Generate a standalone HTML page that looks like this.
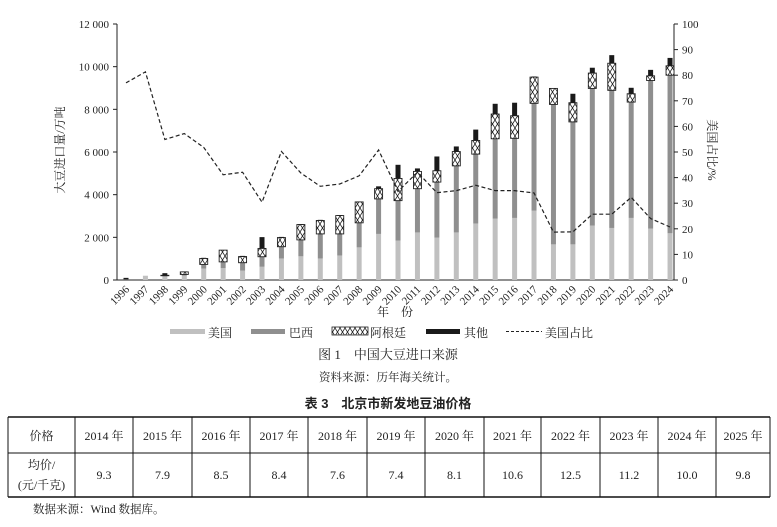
<!DOCTYPE html>
<html><head><meta charset="utf-8"><style>
body{margin:0;background:#fff;width:777px;height:522px;overflow:hidden;font-family:"Liberation Serif","Noto Serif CJK SC",serif;}
svg text{font-family:"Liberation Serif","Noto Serif CJK SC",serif;fill:#222}
</style></head><body>
<svg id="c" width="777" height="522" xmlns="http://www.w3.org/2000/svg">
<defs><pattern id="hx" width="5" height="8" patternUnits="userSpaceOnUse"><rect width="5" height="8" fill="#fff"/><path d="M0 0L5 8M5 0L0 8" stroke="#222" stroke-width="0.8"/></pattern></defs>
<g id="plot"></g>
<g>
<rect x="170" y="329" width="35" height="5" fill="#c0c0c0"/><text x="208" y="337" font-size="12">美国</text>
<rect x="251" y="329" width="34" height="5" fill="#8f8f8f"/><text x="289" y="337" font-size="12">巴西</text>
<rect x="332" y="327" width="36" height="8" fill="url(#hx)" stroke="#222" stroke-width="0.8"/><text x="370" y="337" font-size="12">阿根廷</text>
<rect x="426" y="329" width="34" height="5" fill="#1a1a1a"/><text x="464" y="337" font-size="12">其他</text>
<line x1="506" y1="331.5" x2="542" y2="331.5" stroke="#222" stroke-dasharray="3,2"/><text x="545" y="337" font-size="12">美国占比</text>
</g>
<text x="388" y="359" font-size="13" text-anchor="middle" fill="#444">图 1　中国大豆进口来源</text>
<text x="388" y="381" font-size="11.5" text-anchor="middle">资料来源：历年海关统计。</text>
<text x="388" y="408" font-size="13" font-weight="bold" text-anchor="middle" style="font-family:'Liberation Sans','Noto Sans CJK SC',sans-serif">表 3　北京市新发地豆油价格</text>
<g id="tbl"></g>
<text x="33" y="513" font-size="11.5">数据来源：Wind 数据库。</text>
</svg>
<script>
const years=[1996,1997,1998,1999,2000,2001,2002,2003,2004,2005,2006,2007,2008,2009,2010,2011,2012,2013,2014,2015,2016,2017,2018,2019,2020,2021,2022,2023,2024];
const usVals=[20,200,170,200,540,560,440,620,1010,1110,1010,1150,1530,2160,1850,2230,1990,2230,2650,2880,2910,3250,1670,1670,2550,2440,2910,2410,2190];
const brazilVals=[0,0,30,60,190,290,370,470,550,770,1150,1010,1150,1640,1870,2050,2600,3120,3250,3740,3730,5030,6560,5740,6430,6450,5430,6940,7410];
const argentinaVals=[0,0,20,120,280,550,290,390,430,720,630,860,980,480,1040,810,530,670,640,1160,1060,1230,750,900,720,1270,390,220,440];
const otherVals=[80,0,100,20,30,0,30,530,30,20,30,20,20,110,640,140,670,240,510,480,610,30,10,420,250,380,280,280,370];
const usShare=[77,81.3,54.9,57.2,51.8,41.1,42.1,30.4,50.2,41.8,36.6,37.5,40.7,50.8,34.6,42.1,34.1,34.9,37,34.9,34.9,34,18.7,18.8,25.7,25.7,32.3,24,20.7];
const leftTicks=[0,2000,4000,6000,8000,10000,12000];
const leftTickLabels=["0","2 000","4 000","6 000","8 000","10 000","12 000"];
const rightTicks=[0,10,20,30,40,50,60,70,80,90,100];
const tableYears=["2014 年","2015 年","2016 年","2017 年","2018 年","2019 年","2020 年","2021 年","2022 年","2023 年","2024 年","2025 年"];
const prices=["9.3","7.9","8.5","8.4","7.6","7.4","8.1","10.6","12.5","11.2","10.0","9.8"];

const NS="http://www.w3.org/2000/svg";
const X0=117,X1=674,Y0=280,Y1=24;
const yL=v=>Y0-(v/12000)*(Y0-Y1);
const yR=v=>Y0-(v/100)*(Y0-Y1);
const xB=i=>126+i*19.43;
function mk(p,t,a){const e=document.createElementNS(NS,t);for(const k in a)e.setAttribute(k,a[k]);p.appendChild(e);return e;}
const g=document.getElementById('plot');
// axes
let e;
e=mk(g,'line',{x1:X0,y1:Y1,x2:X0,y2:Y0,stroke:'#222'});


e=mk(g,'line',{x1:X1,y1:Y1,x2:X1,y2:Y0,stroke:'#222'});


e=mk(g,'line',{x1:X0,y1:Y0,x2:X1,y2:Y0,stroke:'#222'});


leftTicks.forEach((v,i)=>{
  mk(g,'line',{x1:X0-4,y1:yL(v),x2:X0,y2:yL(v),stroke:'#222'});
  e=mk(g,'text',{x:X0-8,y:yL(v)+4,'font-size':11,'text-anchor':'end'});e.textContent=leftTickLabels[i];
  
  
});
rightTicks.forEach(v=>{
  mk(g,'line',{x1:X1,y1:yR(v),x2:X1+4,y2:yR(v),stroke:'#222'});
  e=mk(g,'text',{x:X1+8,y:yR(v)+4,'font-size':11});e.textContent=v;
  
  
});
e=mk(g,'text',{x:0,y:0,'font-size':12,transform:'translate(64,150) rotate(-90)','text-anchor':'middle'});e.textContent='大豆进口量/万吨';


e=mk(g,'text',{x:0,y:0,'font-size':12,transform:'translate(708,150) rotate(90)','text-anchor':'middle'});e.textContent='美国占比/%';


e=mk(g,'text',{x:395,y:316,'font-size':12,'text-anchor':'middle'});e.textContent='年　份';


years.forEach((yr,i)=>{
  const x=xB(i),w=5;
  let c=0;
  const segs=[[usVals[i],'#c0c0c0','bar-us'],[brazilVals[i],'#8f8f8f','bar-brazil'],[argentinaVals[i],'url(#hx)','bar-argentina'],[otherVals[i],'#1a1a1a','bar-other']];
  segs.forEach(s=>{
    if(s[0]<=0)return;
    const yt=yL(c+s[0]),yb=yL(c);
    const a={x:x-w/2,y:yt,width:w,height:yb-yt,fill:s[1]};
    if(s[2]==='bar-argentina'){a.x=x-4;a.width=8;a.stroke='#222';a['stroke-width']=0.9;}
    e=mk(g,'rect',a);
    
    
    c+=s[0];
  });
  e=mk(g,'text',{x:0,y:0,'font-size':11,'text-anchor':'end',transform:`translate(${x+4},${Y0+10}) rotate(-45)`});e.textContent=yr;
  
  
});
e=mk(g,'polyline',{points:usShare.map((v,i)=>xB(i)+','+yR(v)).join(' '),fill:'none',stroke:'#222','stroke-width':1.2,'stroke-dasharray':'4,2.5'});


// table
const t=document.getElementById('tbl');
const cols=[8,75,133,192,250,308,367,425,484,541,600,658,716,770];
const T0=417,TM=453,TB=497;
mk(t,'line',{x1:8,y1:T0,x2:770,y2:T0,stroke:'#111','stroke-width':1.5});
mk(t,'line',{x1:8,y1:TM,x2:770,y2:TM,stroke:'#111','stroke-width':1});
mk(t,'line',{x1:8,y1:TB,x2:770,y2:TB,stroke:'#111','stroke-width':1.5});
cols.forEach(x=>mk(t,'line',{x1:x,y1:T0,x2:x,y2:TB,stroke:'#111','stroke-width':1}));
e=mk(t,'text',{x:41.5,y:440,'font-size':12,'text-anchor':'middle'});e.textContent='价格';


e=mk(t,'text',{x:41.5,y:469,'font-size':12,'text-anchor':'middle'});e.textContent='均价/';


e=mk(t,'text',{x:41.5,y:489,'font-size':12,'text-anchor':'middle'});e.textContent='(元/千克)';


tableYears.forEach((y,i)=>{
  const cx=(cols[i+1]+cols[i+2])/2;
  e=mk(t,'text',{x:cx,y:440,'font-size':12,'text-anchor':'middle'});e.textContent=y;
  
  
  e=mk(t,'text',{x:cx,y:479,'font-size':12,'text-anchor':'middle'});e.textContent=prices[i];
  
  
});
</script>
</body></html>
